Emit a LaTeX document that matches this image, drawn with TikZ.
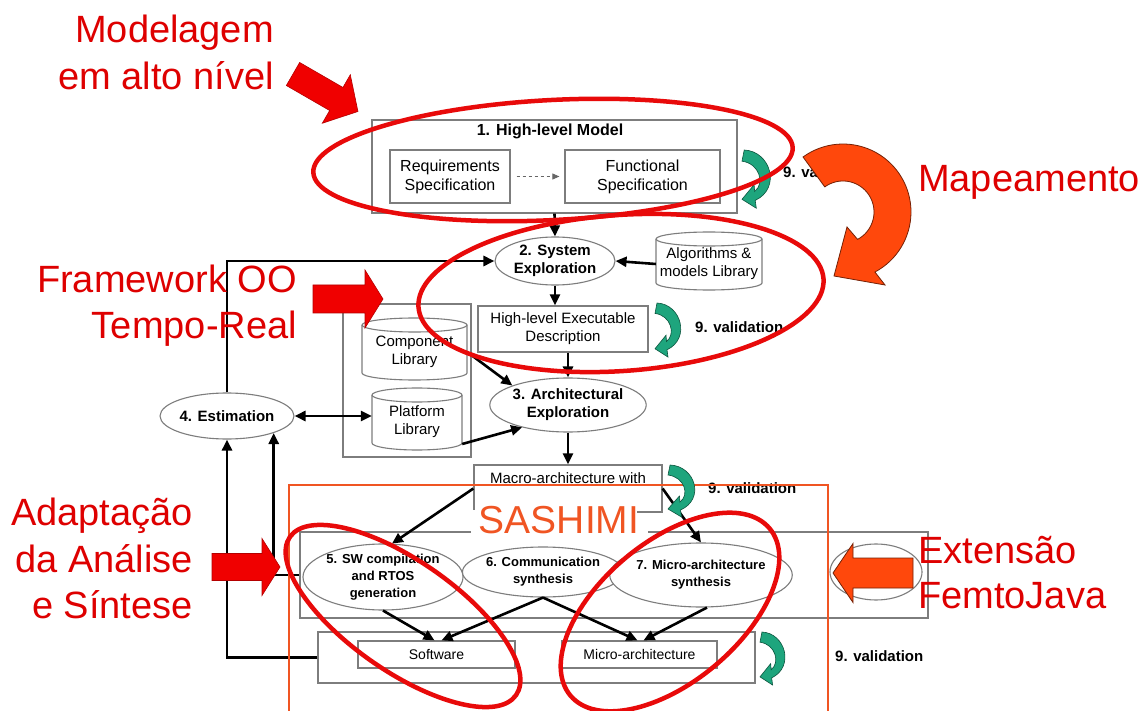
\documentclass[tikz,border=0pt]{standalone}
\usepackage{fontspec}
\setmainfont{Liberation Sans}
\usetikzlibrary{arrows.meta,shapes.geometric,calc}

\definecolor{annored}{RGB}{222,0,0}
\definecolor{arrred}{RGB}{240,0,0}
\definecolor{ringred}{RGB}{232,10,10}
\definecolor{mapor}{RGB}{255,72,12}
\definecolor{sashimi}{RGB}{240,85,35}
\definecolor{boxgrey}{RGB}{125,125,125}
\definecolor{valgreen}{RGB}{30,165,125}
\definecolor{valdark}{RGB}{12,85,62}

% library drawn as an upright cylinder: name, left, top, right, bottom, label
\newcommand{\libcyl}[6]{%
  \pgfmathsetmacro{\cylcx}{(#2+#4)/2}%
  \pgfmathsetmacro{\cylcy}{(#3+#5)/2}%
  \pgfmathsetmacro{\cylrx}{(#4-#2)/2}%
  \pgfmathsetmacro{\cylw}{#4-#2}%
  \pgfmathsetmacro{\cylh}{#5-#3}%
  \filldraw[draw=boxgrey,line width=1.1pt,fill=white]
    (#2,#3+7) -- (#2,#5-7) arc[start angle=180,end angle=360,x radius=\cylrx pt,y radius=7pt]
    -- (#4,#3+7) arc[start angle=0,end angle=180,x radius=\cylrx pt,y radius=7pt] -- cycle;
  \draw[draw=boxgrey,line width=1.1pt]
    (#2,#3+7) arc[start angle=180,end angle=360,x radius=\cylrx pt,y radius=7pt];
  \node[lab,align=center,inner sep=0pt,minimum width=\cylw pt,minimum height=\cylh pt] (#1) at (\cylcx,\cylcy+3) {#6};
}

% straight block arrow: tail x, tail y, angle, shaft length, head length, shaft half width, head half width, style
\newcommand{\blockarrow}[8]{%
  \filldraw[#8,shift={(#1,#2)},rotate=#3]
    (0,-#6) -- (#4,-#6) -- (#4,-#7) -- (#4+#5,0) -- (#4,#7) -- (#4,#6) -- (0,#6) -- cycle;
}

% green turning arrow marking a validation loop: x, y, xscale, yscale
\newcommand{\valarrow}[4]{%
  \begin{scope}[shift={(#1,#2)},xscale=#3,yscale=#4]
    \filldraw[fill=valgreen,draw=valdark,line width=0.6pt]
      (2,0) .. controls (26,1) and (36,34) .. (12,45) -- (13,52) -- (0,44) -- (11,31) -- (11.5,37)
      .. controls (21,30) and (16,12) .. (0,10) -- cycle;
  \end{scope}
}

\begin{document}
\begin{tikzpicture}[x=1pt,y=-1pt,
  lab/.style={font=\fontsize{15}{18}\selectfont},
  blab/.style={font=\fontsize{15}{18}\selectfont\bfseries},
  box/.style={draw=boxgrey,line width=1.2pt,fill=white,inner sep=0pt,align=center},
  oval/.style={ellipse,draw=boxgrey,line width=1.1pt,fill=white,inner sep=0pt,align=center},
  conn/.style={line width=2.6pt,-{Triangle[length=11pt,width=10pt]}},
  ring/.style={draw=ringred,line width=4.5pt},
  big/.style={font=\fontsize{38}{47}\selectfont,inner sep=0pt},
  vtext/.style={font=\fontsize{15}{18}\selectfont\bfseries,anchor=base west,inner sep=0pt},
  redarrow/.style={fill=arrred,draw=arrred!75!black,line width=0.6pt},
  orarrow/.style={fill=mapor,draw=mapor!45!black,line width=0.8pt},
]
\useasboundingbox[fill=white] (0,0) rectangle (1146,711);

% ---------- 1. high-level model ----------
\node[box,minimum width=365pt,minimum height=93pt] (hlm) at (554.5,166.5) {};
\node[font=\fontsize{16}{19}\selectfont\bfseries] (hlmt) at (550,131) {1. High-level Model};
\node[box,font=\fontsize{16}{19}\selectfont,minimum width=120pt,minimum height=53pt] (req) at (450,176.5) {Requirements\\Specification};
\node[box,font=\fontsize{16}{19}\selectfont,minimum width=155pt,minimum height=53pt] (func) at (642.5,176.5) {Functional\\Specification};
\draw[dashed,draw=black!60,line width=0.9pt,-{Triangle[length=7pt,width=6pt]},shorten <=6pt,shorten >=5pt] (req) -- (func);
\node[vtext] (val1) at (783,178) {9. validation};

% ---------- 2. system exploration ----------
\node[oval,blab,minimum width=120pt,minimum height=48pt] (sys) at (555,261) {2. System\\Exploration};
\libcyl{alg}{656}{232}{762}{290}{Algorithms \&\\models Library}
\node[box,lab,minimum width=170pt,minimum height=46pt] (hled) at (563,329) {High-level Executable\\Description};
\node[vtext] (val2) at (695,333) {9. validation};

% ---------- libraries and 3. architectural exploration ----------
\node[box,minimum width=128pt,minimum height=153pt] (libs) at (407,380.5) {};
\libcyl{comp}{362}{318}{467}{380}{Component\\Library}
\libcyl{plat}{372}{388}{462}{450}{Platform\\Library}
\node[oval,blab,minimum width=120pt,minimum height=46pt] (est) at (227,416) {4. Estimation};
\node[oval,blab,minimum width=142pt,minimum height=54pt] (arch) at (568,405) {3. Architectural\\Exploration};

% ---------- macro-architecture ----------
\node[box,minimum width=188pt,minimum height=47pt] (macro) at (568,488.5) {};
\node[lab,anchor=base,inner sep=0pt] (macrot) at (568,483) {Macro-architecture with};
\node[vtext] (val3) at (708,493) {9. validation};

% ---------- synthesis steps ----------
\node[box,minimum width=628pt,minimum height=86pt] (b57) at (614,575) {};
\node[oval,font=\fontsize{13}{17}\selectfont\bfseries,minimum width=156pt,minimum height=66pt] (e5) at (383,577) {5. SW compilation\\and RTOS\\generation};
\node[oval,font=\fontsize{13}{17}\selectfont\bfseries,minimum width=140pt,minimum height=50pt] (e6) at (543,572) {6. Communication\\synthesis};
\node[oval,font=\fontsize{13}{17}\selectfont\bfseries,minimum width=158pt,minimum height=64pt] (e7) at (701,575) {7. Micro-architecture\\synthesis};
\node[oval,minimum width=92pt,minimum height=56pt] (e8) at (876,572) {};

\node[box,minimum width=437pt,minimum height=51pt] (swo) at (536.5,657.5) {};
\node[box,font=\fontsize{14}{17}\selectfont,minimum width=157pt,minimum height=27pt] (sw) at (436.5,654.5) {Software};
\node[box,font=\fontsize{14}{17}\selectfont,minimum width=155pt,minimum height=27pt] (ma) at (639.5,654.5) {Micro-architecture};
\node[vtext] (val4) at (835,661) {9. validation};

% ---------- connectors ----------
\draw[conn] (hlm.south) -- (sys.north);
\draw[conn] (alg.west) -- (sys.east);
\draw[conn] (est.north) |- (sys.west);
\draw[conn] (sys.south) -- (sys.south |- hled.north);
\draw[conn] (arch.north |- hled.south) -- (arch.north);
\draw[conn] (comp.east) -- (arch.north west);
\draw[conn] ([yshift=-22pt]plat.east) -- (arch.206);
\draw[line width=2.6pt,{Triangle[length=11pt,width=10pt]}-{Triangle[length=11pt,width=10pt]}] (est.east) -- (est.east -| plat.west);
\draw[conn] (arch.south) -- (macro.north);
\draw[conn] (macro.west) -- (e5.75);
\draw[conn] (macro.east) -- (e7.north);
\draw[conn] (e5.south) -- ([xshift=-2pt]sw.north);
\draw[conn] (e6.south) -- ([xshift=5pt]sw.north);
\draw[conn] (e6.south) -- ([xshift=-2pt]ma.north);
\draw[conn] ([xshift=6pt]e7.south) -- ([xshift=4pt]ma.north);
\draw[conn] (swo.west) -| (est.south);
\draw[conn] (b57.west) -| (est.-20);

% ---------- SASHIMI frame ----------
\fill[white] (471,510) rectangle (637,546);
\fill[white] (637,528) rectangle (648,536);
\node[font=\fontsize{39}{45}\selectfont,text=sashimi,anchor=base,inner sep=0pt] (sashimi) at (559,533) {SASHIMI};
\draw[draw=sashimi,line width=1.8pt] (289,485) rectangle (828,720);

% ---------- validation loops ----------
\valarrow{742}{150}{1.1}{1.12}
\valarrow{655}{303}{1.0}{1.04}
\valarrow{668}{465}{1.04}{1.0}
\valarrow{760}{632}{0.97}{1.02}

% ---------- highlighted regions ----------
\draw[ring,rotate around={3:(553,160)}] (553,160) ellipse[x radius=240pt,y radius=60pt];
\draw[ring,rotate around={4:(621,293)}] (621,293) ellipse[x radius=203pt,y radius=78pt];
\draw[ring,rotate around={-35:(403,616)}] (403,616) ellipse[x radius=138pt,y radius=55pt];
\draw[ring,rotate around={40:(670,612)}] (670,612) ellipse[x radius=130pt,y radius=70pt];

% ---------- annotations ----------
\blockarrow{293}{74}{-30}{50}{25}{13.3}{28}{redarrow}
\blockarrow{313}{299}{0}{52}{18}{14}{29}{redarrow}
\blockarrow{212}{567}{0}{50}{18}{13.5}{28.5}{redarrow}
\blockarrow{913}{573}{180}{60}{20}{15}{29.5}{orarrow}
\filldraw[orarrow]
  plot[domain=126:-62,samples=50,variable=\t] ({843+68*cos(\t)},{212-68*sin(\t)})
  -- (885,285) -- (834,276) -- (847,227)
  -- plot[domain=-62:126,samples=50,variable=\t] ({843+31*cos(\t)},{212-31*sin(\t)}) -- cycle;

\node[big,text=annored,anchor=base east] (t1) at (274,43) {Modelagem};
\node[big,text=annored,anchor=base east] (t2) at (274,90) {em alto nível};
\node[big,text=annored,anchor=base west] (t3) at (918,192) {Mapeamento};
\node[big,text=annored,anchor=base east] (t4) at (297,293) {Framework OO};
\node[big,text=annored,anchor=base east] (t5) at (297,338) {Tempo-Real};
\node[big,text=annored,anchor=base east] (t6) at (193,525) {Adaptação};
\node[big,text=annored,anchor=base east] (t7) at (193,572) {da Análise};
\node[big,text=annored,anchor=base east] (t8) at (193,618) {e Síntese};
\node[big,text=annored,anchor=base west] (t9) at (918,563) {Extensão};
\node[big,text=annored,anchor=base west] (t10) at (918,608) {FemtoJava};
\end{tikzpicture}
\end{document}
